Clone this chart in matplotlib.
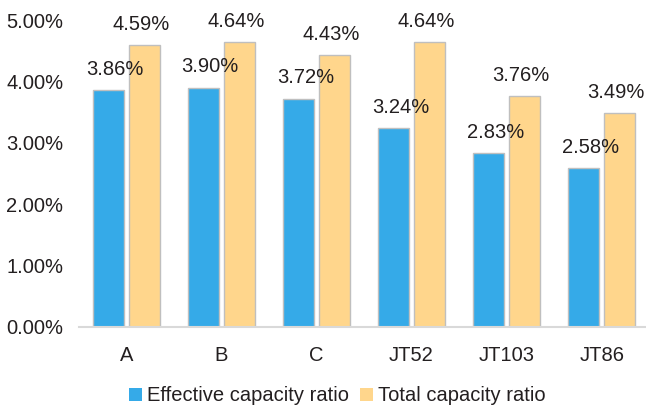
import matplotlib.pyplot as plt
import numpy as np

# data (percent)
wells = ['A', 'B', 'C', 'JT52', 'JT103', 'JT86']
effective = [3.86, 3.90, 3.72, 3.24, 2.83, 2.58]
total = [4.59, 4.64, 4.43, 4.64, 3.76, 3.49]

plt.rcParams['font.family'] = ['Liberation Sans', 'DejaVu Sans']
plt.rcParams['font.size'] = 14.5
txt_color = '#231F20'

fig = plt.figure(figsize=(6.46, 4.08), dpi=100)
ax = fig.add_axes([0.1228, 0.1993, 0.8772, 0.7514])

x = np.arange(len(wells))
w = 0.326
off = 0.19
b1 = ax.bar(x - off, effective, w, color='#35AAE8', edgecolor='#BFBFBF',
            linewidth=1, label='Effective capacity ratio')
b2 = ax.bar(x + off, total, w, color='#FFD68C', edgecolor='#BFBFBF',
            linewidth=1, label='Total capacity ratio')

# value labels
for xi, v in zip(x, effective):
    ax.annotate('%.2f%%' % v, (xi - off, v), xytext=(5, 8), textcoords='offset points',
                ha='center', va='bottom', color=txt_color)
for xi, v in zip(x, total):
    ax.annotate('%.2f%%' % v, (xi + off, v), xytext=(-2.5, 8), textcoords='offset points',
                ha='center', va='bottom', color=txt_color)

ax.set_xlim(-0.493, 5.466)
ax.set_ylim(0, 5)
ax.set_yticks(np.arange(0, 5.01, 1))
ax.set_yticklabels(['%.2f%%' % t for t in np.arange(0, 5.01, 1)])
ax.set_xticks(x)
ax.set_xticklabels(wells)
ax.tick_params(axis='y', length=0, pad=11.5, colors=txt_color)
ax.tick_params(axis='x', length=0, pad=14, colors=txt_color)

for s in ['top', 'right', 'left']:
    ax.spines[s].set_visible(False)
ax.spines['bottom'].set_color('#D9D9D9')
ax.spines['bottom'].set_linewidth(1.5)

fig.legend(handles=[b1, b2], loc='center', bbox_to_anchor=(0.522, 0.03), ncol=2,
           frameon=False, borderpad=0, handlelength=0.63, handleheight=0.63,
           handletextpad=0.23, columnspacing=0.58,
           labelcolor=txt_color)
for p in fig.legends[0].get_patches():
    p.set_edgecolor('none')

fig.savefig('out.png', dpi=100)
